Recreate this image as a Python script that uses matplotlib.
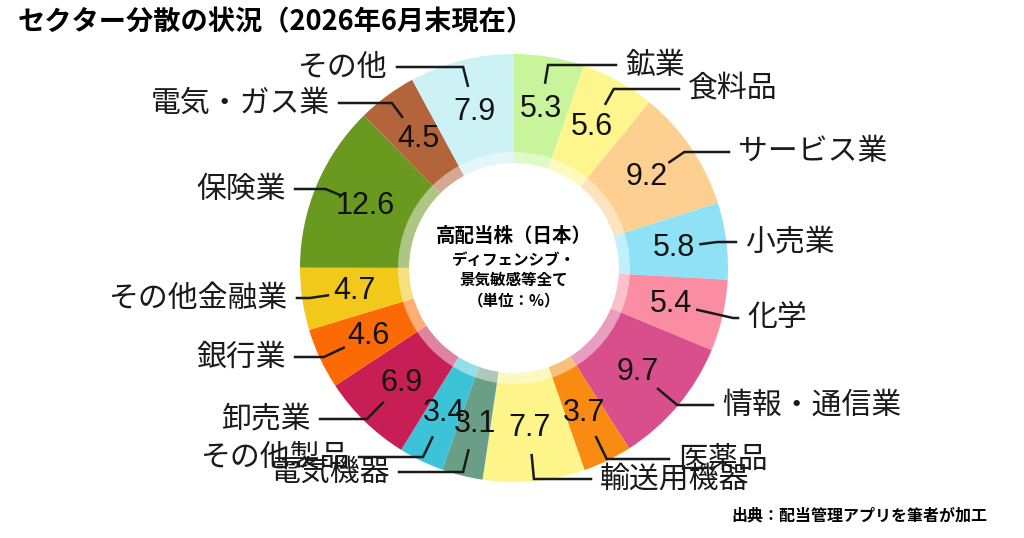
import matplotlib
matplotlib.use('Agg')
import matplotlib.pyplot as plt
from matplotlib.patches import Wedge
import numpy as np

plt.rcParams['font.family'] = ['Noto Sans CJK JP', 'DejaVu Sans']

# データ（時計回り、12時の位置から）
sectors = ['鉱業', '食料品', 'サービス業', '小売業', '化学', '情報・通信業', '医薬品',
           '輸送用機器', '電気機器', 'その他製品', '卸売業', '銀行業', 'その他金融業',
           '保険業', '電気・ガス業', 'その他']
shares = [5.3, 5.6, 9.2, 5.8, 5.4, 9.7, 3.7, 7.7, 3.1, 3.4, 6.9, 4.6, 4.7, 12.6, 4.5, 7.9]
colors = ['#c8f59b', '#fdf68d', '#fdcf90', '#8fe2f6', '#fb8da2', '#d94f8c', '#f98b12',
          '#fdf48a', '#6a9e86', '#3cc3d8', '#c71f55', '#fc6a06', '#f2c81a', '#6a991f',
          '#b4643a', '#cdf2f5']

# ラベルの配置（ピクセル、上から）: x, y, 揃え
label_pos = [(625, 65, 'left'), (688, 89, 'left'), (738, 152, 'left'), (745, 242, 'left'),
             (747, 318, 'left'), (722, 405, 'left'), (678, 459, 'left'), (600, 479, 'left'),
             (390, 472, 'right'), (350, 457, 'right'), (311, 419, 'right'), (286, 357, 'right'),
             (288, 298, 'right'), (286, 189, 'right'), (330, 103, 'right'), (388, 67, 'right')]

W, H = 1024, 538
cx, cy = 514, H - 268
R, r_hole = 214, 105

fig = plt.figure(figsize=(W / 100, H / 100), dpi=100)
ax = fig.add_axes([0, 0, 1, 1])

wedges, _ = ax.pie(shares, colors=colors, startangle=90, counterclock=False,
                   radius=R, center=(cx, cy), wedgeprops=dict(width=R - r_hole, linewidth=0))
# 内側の半透明リング
ax.add_patch(Wedge((cx, cy), r_hole + 11, 0, 360, width=11, facecolor='white',
                   alpha=0.45, linewidth=0))

ax.set_xlim(0, W)
ax.set_ylim(0, H)
ax.set_aspect('equal')
ax.axis('off')

for w, val, name, (lx, ly, ha) in zip(wedges, shares, sectors, label_pos):
    ang = np.deg2rad((w.theta1 + w.theta2) / 2)
    c, s = np.cos(ang), np.sin(ang)
    ax.text(cx + 161 * c, cy + 161 * s, f'{val:.1f}', ha='center', va='center',
            fontsize=22, color='#111111', family=['Liberation Sans', 'DejaVu Sans'])
    ly = H - ly
    sx, sy = cx + 188 * c, cy + 188 * s
    t = (ly - sy) / s if abs(s) > 0.05 else 0
    t = min(max(t, 0), 60)
    ex, ey = sx + t * c, ly
    end_x = lx - 9 if ha == 'left' else lx + 9
    ax.plot([sx, ex, end_x], [sy, ey, ly], color='#1a1a1a', lw=1.8,
            solid_joinstyle='miter')
    ax.text(lx, ly, name, ha=ha, va='center', fontsize=21.5, color='#1a1a1a')

ax.text(cx, H - 236, '高配当株（日本）', ha='center', va='center', fontsize=14, fontweight='bold')
ax.text(cx, H - 260, 'ディフェンシブ・', ha='center', va='center', fontsize=11.2, fontweight='bold')
ax.text(cx, H - 280, '景気敏感等全て', ha='center', va='center', fontsize=11.2, fontweight='bold')
ax.text(cx, H - 300, '（単位：%）', ha='center', va='center', fontsize=11.2, fontweight='bold')

fig.text(18 / W, 1 - 22 / H, 'セクター分散の状況（2026年6月末現在）', ha='left', va='center',
         fontsize=19.6, fontweight='bold')
fig.text(987 / W, 1 - 515 / H, '出典：配当管理アプリを筆者が加工', ha='right', va='center',
         fontsize=11.5, fontweight='bold')

fig.savefig('out.png', dpi=100, facecolor='white')
